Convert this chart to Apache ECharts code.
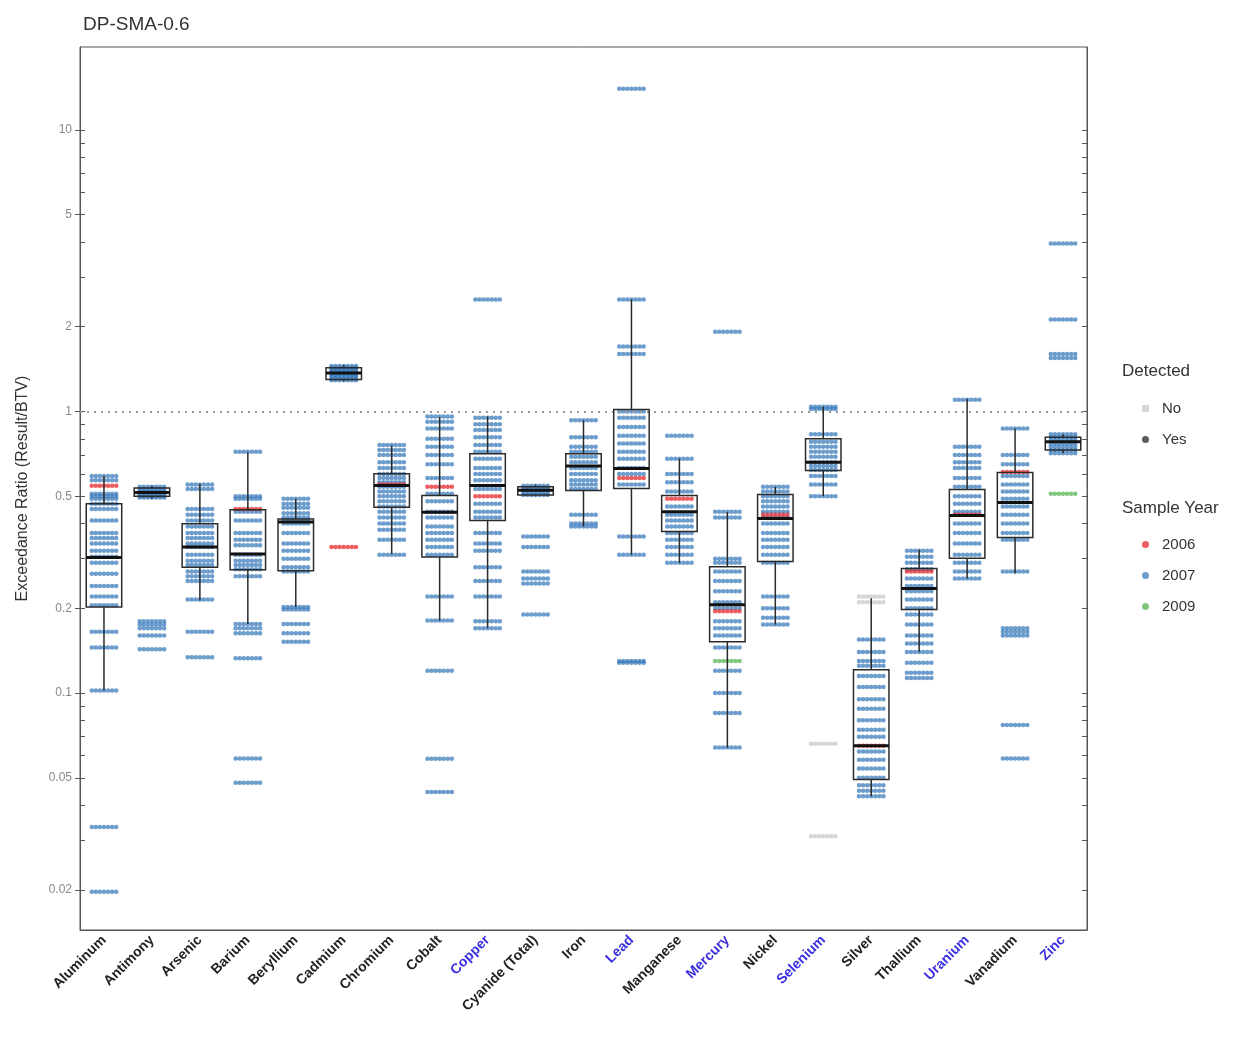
<!DOCTYPE html>
<html>
<head>
<meta charset="utf-8">
<script src="https://cdn.jsdelivr.net/npm/echarts@6/dist/echarts.min.js"></script>
<style>html,body{margin:0;padding:0;background:#fff}#main{width:1242px;height:1043px}</style>
</head>
<body>
<div id="main"></div>
<script>
var categories = ['Aluminum', 'Antimony', 'Arsenic', 'Barium', 'Beryllium', 'Cadmium', 'Chromium', 'Cobalt', 'Copper',
    'Cyanide (Total)', 'Iron', 'Lead', 'Manganese', 'Mercury', 'Nickel', 'Selenium', 'Silver', 'Thallium', 'Uranium',
    'Vanadium', 'Zinc'];
var blueLabels = ['Copper', 'Lead', 'Mercury', 'Selenium', 'Uranium', 'Zinc'];

var yLabelValues = [0.02, 0.05, 0.1, 0.2, 0.5, 1, 2, 5, 10];
var yMinorValues = [0.03, 0.04, 0.06, 0.07, 0.08, 0.09, 0.3, 0.4, 0.6, 0.7, 0.8, 0.9, 3, 4, 6, 7, 8, 9];
var yMin = 0.0144, yMax = 19.7;

// box stats per category
var boxLow    = [0.102, 0.49, 0.213, 0.176, 0.202, 1.28, 0.312, 0.181, 0.17, 0.5, 0.39, 0.31, 0.29, 0.064, 0.175, 0.5, 0.043, 0.14, 0.255, 0.266, 0.71];
var boxQ1     = [0.202, 0.5, 0.28, 0.274, 0.272, 1.3, 0.457, 0.304, 0.41, 0.505, 0.524, 0.533, 0.375, 0.152, 0.293, 0.617, 0.0493, 0.198, 0.301, 0.357, 0.73];
var boxMedian = [0.303, 0.515, 0.33, 0.312, 0.405, 1.37, 0.546, 0.439, 0.546, 0.525, 0.64, 0.627, 0.44, 0.206, 0.417, 0.66, 0.065, 0.235, 0.427, 0.475, 0.78];
var boxQ3     = [0.47, 0.535, 0.399, 0.448, 0.415, 1.43, 0.601, 0.503, 0.707, 0.54, 0.707, 1.016, 0.503, 0.281, 0.507, 0.8, 0.121, 0.277, 0.528, 0.607, 0.81];
var boxHigh   = [0.59, 0.545, 0.553, 0.717, 0.49, 1.46, 0.757, 0.954, 0.96, 0.55, 0.93, 2.5, 0.68, 0.44, 0.54, 1.04, 0.217, 0.323, 1.11, 0.87, 0.83];

// detected results by sample year, one list per category
var year2007 = [
    [0.59, 0.57, 0.51, 0.5, 0.49, 0.47, 0.45, 0.41, 0.37, 0.355, 0.34, 0.32, 0.305, 0.29, 0.265, 0.24, 0.22, 0.205, 0.165, 0.145, 0.102, 0.0334, 0.0197],
    [0.54, 0.53, 0.52, 0.515, 0.51, 0.5, 0.495, 0.18, 0.175, 0.17, 0.16, 0.143],
    [0.55, 0.53, 0.45, 0.43, 0.41, 0.39, 0.37, 0.355, 0.34, 0.33, 0.31, 0.295, 0.285, 0.27, 0.26, 0.25, 0.215, 0.165, 0.134],
    [0.72, 0.5, 0.49, 0.44, 0.41, 0.37, 0.35, 0.335, 0.31, 0.295, 0.285, 0.275, 0.26, 0.176, 0.17, 0.163, 0.133, 0.0585, 0.048],
    [0.49, 0.47, 0.455, 0.435, 0.42, 0.41, 0.4, 0.37, 0.34, 0.32, 0.3, 0.28, 0.27, 0.202, 0.198, 0.176, 0.163, 0.152],
    [1.45, 1.43, 1.41, 1.39, 1.37, 1.35, 1.33, 1.31, 1.29],
    [0.76, 0.73, 0.7, 0.66, 0.63, 0.6, 0.58, 0.56, 0.54, 0.52, 0.5, 0.48, 0.46, 0.44, 0.42, 0.4, 0.38, 0.35, 0.31],
    [0.96, 0.92, 0.87, 0.8, 0.75, 0.7, 0.65, 0.58, 0.51, 0.48, 0.44, 0.42, 0.39, 0.37, 0.35, 0.33, 0.31, 0.22, 0.181, 0.12, 0.0584, 0.0445],
    [2.5, 0.95, 0.9, 0.86, 0.81, 0.76, 0.72, 0.68, 0.63, 0.6, 0.57, 0.53, 0.47, 0.44, 0.42, 0.37, 0.34, 0.32, 0.28, 0.25, 0.22, 0.18, 0.17],
    [0.545, 0.535, 0.525, 0.515, 0.505, 0.36, 0.33, 0.27, 0.255, 0.245, 0.19],
    [0.93, 0.81, 0.75, 0.72, 0.69, 0.66, 0.63, 0.6, 0.57, 0.55, 0.53, 0.43, 0.4, 0.39],
    [14, 2.5, 1.7, 1.6, 1.0, 0.95, 0.88, 0.82, 0.77, 0.72, 0.68, 0.63, 0.6, 0.55, 0.36, 0.31, 0.13, 0.128],
    [0.82, 0.68, 0.6, 0.56, 0.52, 0.46, 0.43, 0.41, 0.39, 0.37, 0.35, 0.33, 0.31, 0.29],
    [1.92, 0.44, 0.42, 0.3, 0.29, 0.27, 0.25, 0.23, 0.21, 0.2, 0.18, 0.17, 0.16, 0.145, 0.12, 0.1, 0.085, 0.064],
    [0.54, 0.52, 0.5, 0.48, 0.46, 0.44, 0.42, 0.4, 0.37, 0.35, 0.33, 0.31, 0.29, 0.22, 0.2, 0.185, 0.175],
    [1.04, 1.02, 0.83, 0.78, 0.75, 0.72, 0.69, 0.66, 0.64, 0.62, 0.59, 0.55, 0.5],
    [0.155, 0.14, 0.13, 0.125, 0.115, 0.105, 0.095, 0.088, 0.08, 0.074, 0.07, 0.062, 0.058, 0.054, 0.05, 0.047, 0.045, 0.043],
    [0.32, 0.305, 0.29, 0.275, 0.255, 0.24, 0.23, 0.215, 0.2, 0.19, 0.175, 0.16, 0.15, 0.14, 0.128, 0.118, 0.113],
    [1.1, 0.75, 0.7, 0.66, 0.63, 0.58, 0.54, 0.5, 0.47, 0.44, 0.4, 0.37, 0.34, 0.31, 0.29, 0.27, 0.255],
    [0.87, 0.7, 0.65, 0.59, 0.55, 0.52, 0.49, 0.46, 0.43, 0.4, 0.37, 0.35, 0.27, 0.17, 0.165, 0.16, 0.077, 0.0585],
    [3.95, 2.12, 1.6, 1.55, 0.83, 0.81, 0.79, 0.77, 0.75, 0.73, 0.71]
];
var year2006 = [[0.545], [], [], [0.45], [], [0.33], [0.55], [0.54], [0.5], [], [], [0.58], [0.49], [0.195], [0.43], [], [0.065], [0.27], [0.43], [0.61], []];
var year2009 = [[], [], [], [], [], [], [], [], [], [], [], [], [], [0.13], [], [], [], [], [], [], [0.51]];
var notDetected = [[], [], [], [], [], [], [], [], [], [], [], [], [], [], [], [0.066, 0.031], [0.22, 0.21], [], [], [], []];

function lg(v) { return Math.log(v) / Math.LN10; }

function toPoints(list) {
    var out = [];
    list.forEach(function (vals, i) {
        vals.forEach(function (v) { out.push([i, lg(v)]); });
    });
    return out;
}

var boxData = [];
categories.forEach(function (c, i) {
    if (boxQ1[i] == null) return;
    boxData.push([i, lg(boxLow[i]), lg(boxQ1[i]), lg(boxMedian[i]), lg(boxQ3[i]), lg(boxHigh[i])]);
});

// overlapping dots in a row, stands in for jittered points at one value
var streak = 'path://M0,1a1,1 0 1,0 2,0a1,1 0 1,0 -2,0Z' +
    'M1.8,1a1,1 0 1,0 2,0a1,1 0 1,0 -2,0Z' +
    'M3.6,1a1,1 0 1,0 2,0a1,1 0 1,0 -2,0Z' +
    'M5.4,1a1,1 0 1,0 2,0a1,1 0 1,0 -2,0Z' +
    'M7.2,1a1,1 0 1,0 2,0a1,1 0 1,0 -2,0Z' +
    'M9,1a1,1 0 1,0 2,0a1,1 0 1,0 -2,0Z' +
    'M10.8,1a1,1 0 1,0 2,0a1,1 0 1,0 -2,0Z';

function renderBox(params, api) {
    var x = api.value(0);
    var lo = api.coord([x, api.value(1)]);
    var q1 = api.coord([x, api.value(2)]);
    var md = api.coord([x, api.value(3)]);
    var q3 = api.coord([x, api.value(4)]);
    var hi = api.coord([x, api.value(5)]);
    var half = api.size([1, 0])[0] * 0.37;
    var st = { stroke: '#2b2b2b', lineWidth: 1.5, fill: null };
    return {
        type: 'group',
        children: [
            { type: 'line', shape: { x1: lo[0], y1: lo[1], x2: q1[0], y2: q1[1] }, style: st },
            { type: 'line', shape: { x1: q3[0], y1: q3[1], x2: hi[0], y2: hi[1] }, style: st },
            { type: 'rect', shape: { x: q3[0] - half, y: q3[1], width: half * 2, height: q1[1] - q3[1] }, style: st },
            { type: 'line', shape: { x1: md[0] - half, y1: md[1], x2: md[0] + half, y2: md[1] }, style: { stroke: '#111', lineWidth: 3 } }
        ]
    };
}

var font = "'Liberation Sans', Arial, sans-serif";
var allTicks = yLabelValues.concat(yMinorValues).map(lg);

function scatter(name, color, list) {
    return {
        name: name,
        type: 'scatter',
        symbol: streak,
        symbolSize: [29, 4.5],
        itemStyle: { color: color, opacity: 0.7 },
        data: toPoints(list),
        z: 2
    };
}

var s2007 = scatter('2007', '#2f73b8', year2007);
s2007.markLine = {
    silent: true, symbol: 'none', label: { show: false },
    lineStyle: { color: '#999', width: 2, type: [2, 5] },
    data: [{ yAxis: 0 }]
};

var chart = echarts.init(document.getElementById('main'));
chart.setOption({
    animation: false,
    textStyle: { fontFamily: font },
    title: [
        { text: 'DP-SMA-0.6', left: 78, top: 10, textStyle: { fontSize: 19, fontWeight: 'normal', color: '#333', fontFamily: font } },
        { text: 'Detected', left: 1117, top: 358, textStyle: { fontSize: 17, fontWeight: 'normal', color: '#333', fontFamily: font } },
        { text: 'Sample Year', left: 1117, top: 495, textStyle: { fontSize: 17, fontWeight: 'normal', color: '#333', fontFamily: font } }
    ],
    legend: [
        {
            data: [{ name: 'No', icon: 'rect' }, { name: 'Yes', icon: 'circle' }],
            orient: 'vertical', left: 1137, top: 396, itemWidth: 7, itemHeight: 7, itemGap: 16,
            textStyle: { fontSize: 15, color: '#333', padding: [0, 0, 0, 8] }
        },
        {
            data: [{ name: '2006', icon: 'circle' }, { name: '2007', icon: 'circle' }, { name: '2009', icon: 'circle' }],
            orient: 'vertical', left: 1137, top: 532, itemWidth: 7, itemHeight: 7, itemGap: 16,
            textStyle: { fontSize: 15, color: '#333', padding: [0, 0, 0, 8] }
        }
    ],
    grid: { left: 80, right: 155, top: 47, bottom: 113, show: true, borderColor: '#555', borderWidth: 1, backgroundColor: 'transparent' },
    xAxis: {
        type: 'category',
        data: categories,
        axisLine: { onZero: false, lineStyle: { color: '#555' } },
        axisTick: { alignWithLabel: true, length: 5, lineStyle: { color: '#555' } },
        axisLabel: {
            interval: 0, rotate: 45, margin: 8, fontSize: 14, fontWeight: 'bold', fontFamily: font,
            color: function (v) { return blueLabels.indexOf(v) >= 0 ? '#3a2fe0' : '#222'; }
        }
    },
    yAxis: [
        {
            type: 'value', position: 'left', min: lg(yMin), max: lg(yMax),
            name: 'Exceedance Ratio (Result/BTV)', nameLocation: 'middle', nameGap: 49,
            nameTextStyle: { fontSize: 16, color: '#333', fontFamily: font },
            axisLine: { show: true, lineStyle: { color: '#555' } },
            axisTick: { show: true, length: 5, customValues: yLabelValues.map(lg), lineStyle: { color: '#555' } },
            axisLabel: {
                customValues: yLabelValues.map(lg), color: '#888', fontSize: 12, margin: 8,
                formatter: function (v) { return String(+Math.pow(10, v).toPrecision(2)); }
            },
            splitLine: { show: false }
        },
        {
            type: 'value', position: 'left', min: lg(yMin), max: lg(yMax),
            axisLine: { show: false },
            axisTick: { show: true, inside: true, length: 5, customValues: allTicks, lineStyle: { color: '#555' } },
            axisLabel: { show: false },
            splitLine: { show: false }
        },
        {
            type: 'value', position: 'right', min: lg(yMin), max: lg(yMax),
            axisLine: { show: true, lineStyle: { color: '#555' } },
            axisTick: { show: true, inside: true, length: 5, customValues: allTicks, lineStyle: { color: '#555' } },
            axisLabel: { show: false },
            splitLine: { show: false }
        }
    ],
    series: [
        s2007,
        scatter('2006', '#e41a1c', year2006),
        scatter('2009', '#4daf4a', year2009),
        scatter('No', '#c4c4c4', notDetected),
        { name: 'Yes', type: 'scatter', itemStyle: { color: '#333' }, data: [] },
        {
            type: 'custom',
            renderItem: renderBox,
            encode: { x: 0, y: [1, 2, 3, 4, 5] },
            data: boxData,
            z: 5
        }
    ]
});
</script>
</body>
</html>
